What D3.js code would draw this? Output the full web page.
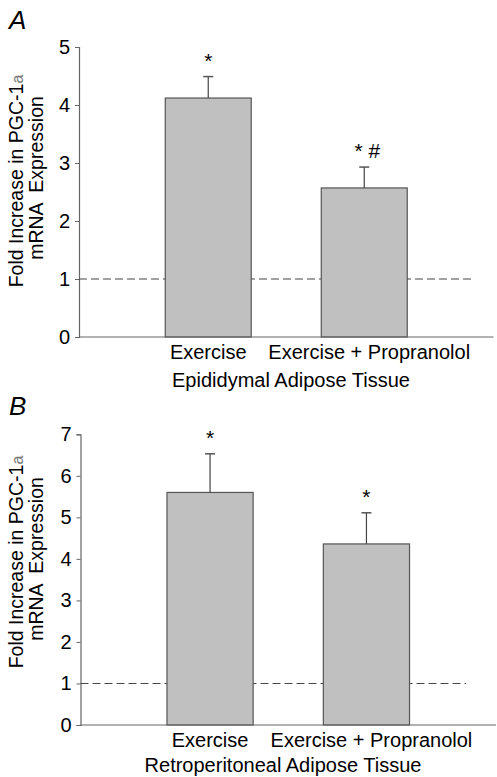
<!DOCTYPE html>
<html>
<head>
<meta charset="utf-8">
<script src="https://cdn.jsdelivr.net/npm/d3@7"></script>
<style>
  html, body { margin: 0; padding: 0; background: #fff; }
  svg { display: block; font-family: "Liberation Sans", Arial, sans-serif; }
</style>
</head>
<body>
<svg id="chart" width="497" height="777"></svg>
<script>
// ---- Data ----
const categories = ["Exercise", "Exercise + Propranolol"];
const panelAValues = [4.12, 2.57];
const panelAErrors = [0.37, 0.36];
const panelAMarks = ["*", "* #"];
const panelBValues = [5.6, 4.36];
const panelBErrors = [0.93, 0.75];
const panelBMarks = ["*", "*"];
const panelATicks = [0, 1, 2, 3, 4, 5];
const panelBTicks = [0, 1, 2, 3, 4, 5, 6, 7];
const panelLetters = ["A", "B"];
const tissueLabels = ["Epididymal Adipose Tissue", "Retroperitoneal Adipose Tissue"];
const yLabelLine1 = "Fold Increase in PGC-1";
const yLabelAlpha = "a";
const yLabelLine2 = "mRNA  Expression";
const baselineValue = 1;

const svg = d3.select("#chart");

const panels = [
  { letter: panelLetters[0], values: panelAValues, errors: panelAErrors, marks: panelAMarks,
    ticks: panelATicks, tissue: tissueLabels[0],
    left: 79, right: 493.5, top: 47, bottom: 337, letterY: 29, dashEnd: 473,
    catY: 359, tissueY: 387, tissueX: 291, labelCY: 181 },
  { letter: panelLetters[1], values: panelBValues, errors: panelBErrors, marks: panelBMarks,
    ticks: panelBTicks, tissue: tissueLabels[1],
    left: 80.5, right: 496, top: 434.3, bottom: 725, letterY: 415, dashEnd: 466,
    catY: 747, tissueY: 772, tissueX: 283, labelCY: 562 }
];

const axisColor = "#666";
const fs = 20;

panels.forEach(p => {
  const g = svg.append("g");
  const yMax = d3.max(p.ticks);
  const y = d3.scaleLinear().domain([0, yMax]).range([p.bottom, p.top]);
  const x = d3.scaleBand().domain(categories).range([p.left, p.right])
    .paddingInner(0.449).paddingOuter(0.553);

  // panel letter
  g.append("text").attr("x", 9).attr("y", p.letterY)
    .attr("font-size", 26).attr("font-style", "italic")
    .attr("fill", "#000").text(p.letter);

  // y axis
  const yAxis = d3.axisLeft(y).tickValues(p.ticks).tickSize(4).tickPadding(5)
    .tickFormat(d3.format("d"));
  const ya = g.append("g").attr("transform", `translate(${p.left},0)`).call(yAxis);
  ya.select(".domain").attr("stroke", axisColor).attr("stroke-width", 1.2);
  ya.selectAll(".tick line").attr("stroke", axisColor);
  ya.selectAll(".tick text").attr("font-size", fs).attr("fill", "#000")
    .attr("font-family", "'Liberation Sans', Arial, sans-serif");

  // y label
  const lab1 = g.append("text")
    .attr("transform", `translate(23,${p.labelCY}) rotate(-90)`)
    .attr("text-anchor", "middle").attr("font-size", 19.5).attr("fill", "#000");
  lab1.append("tspan").text(yLabelLine1);
  lab1.append("tspan").attr("font-size", 16).attr("fill", "#777").text(yLabelAlpha);
  g.append("text")
    .attr("transform", `translate(43,${p.labelCY - 3}) rotate(-90)`)
    .attr("text-anchor", "middle").attr("font-size", 19.5).attr("fill", "#000")
    .attr("xml:space", "preserve").style("white-space", "pre")
    .text(yLabelLine2);

  // dashed baseline
  g.append("line")
    .attr("x1", p.left).attr("x2", p.dashEnd)
    .attr("y1", y(baselineValue)).attr("y2", y(baselineValue))
    .attr("stroke", "#444").attr("stroke-width", 1).attr("stroke-dasharray", "8,4");

  // bars
  const data = categories.map((c, i) => ({ c, v: p.values[i], e: p.errors[i], m: p.marks[i] }));
  g.selectAll("rect.bar").data(data).join("rect").attr("class", "bar")
    .attr("x", d => x(d.c)).attr("width", x.bandwidth())
    .attr("y", d => y(d.v)).attr("height", d => y(0) - y(d.v))
    .attr("fill", "#c0c0c0").attr("stroke", "#555").attr("stroke-width", 1.2);

  // error bars
  g.selectAll("line.err").data(data).join("line").attr("class", "err")
    .attr("x1", d => x(d.c) + x.bandwidth() / 2).attr("x2", d => x(d.c) + x.bandwidth() / 2)
    .attr("y1", d => y(d.v)).attr("y2", d => y(d.v + d.e))
    .attr("stroke", "#444").attr("stroke-width", 1.2);
  g.selectAll("line.cap").data(data).join("line").attr("class", "cap")
    .attr("x1", d => x(d.c) + x.bandwidth() / 2 - 5).attr("x2", d => x(d.c) + x.bandwidth() / 2 + 5)
    .attr("y1", d => y(d.v + d.e)).attr("y2", d => y(d.v + d.e))
    .attr("stroke", "#555").attr("stroke-width", 1.5);

  // significance marks
  g.selectAll("text.mark").data(data).join("text").attr("class", "mark")
    .attr("x", d => x(d.c) + x.bandwidth() / 2 + (d.m.length > 1 ? 3 : 0))
    .attr("y", d => y(d.v + d.e) - 9)
    .attr("text-anchor", "middle").attr("font-size", 21).attr("fill", "#000")
    .text(d => d.m);

  // x axis line
  g.append("line").attr("x1", p.left).attr("x2", p.right)
    .attr("y1", y(0)).attr("y2", y(0))
    .attr("stroke", axisColor).attr("stroke-width", 1.2);

  // category labels
  g.selectAll("text.cat").data(data).join("text").attr("class", "cat")
    .attr("x", (d, i) => x(d.c) + x.bandwidth() / 2 + (i === 1 ? 5 : 0))
    .attr("y", p.catY)
    .attr("text-anchor", "middle").attr("font-size", fs).attr("fill", "#000")
    .text(d => d.c);

  // tissue label
  g.append("text").attr("x", p.tissueX).attr("y", p.tissueY)
    .attr("text-anchor", "middle").attr("font-size", fs).attr("fill", "#000")
    .text(p.tissue);
});
</script>
</body>
</html>
